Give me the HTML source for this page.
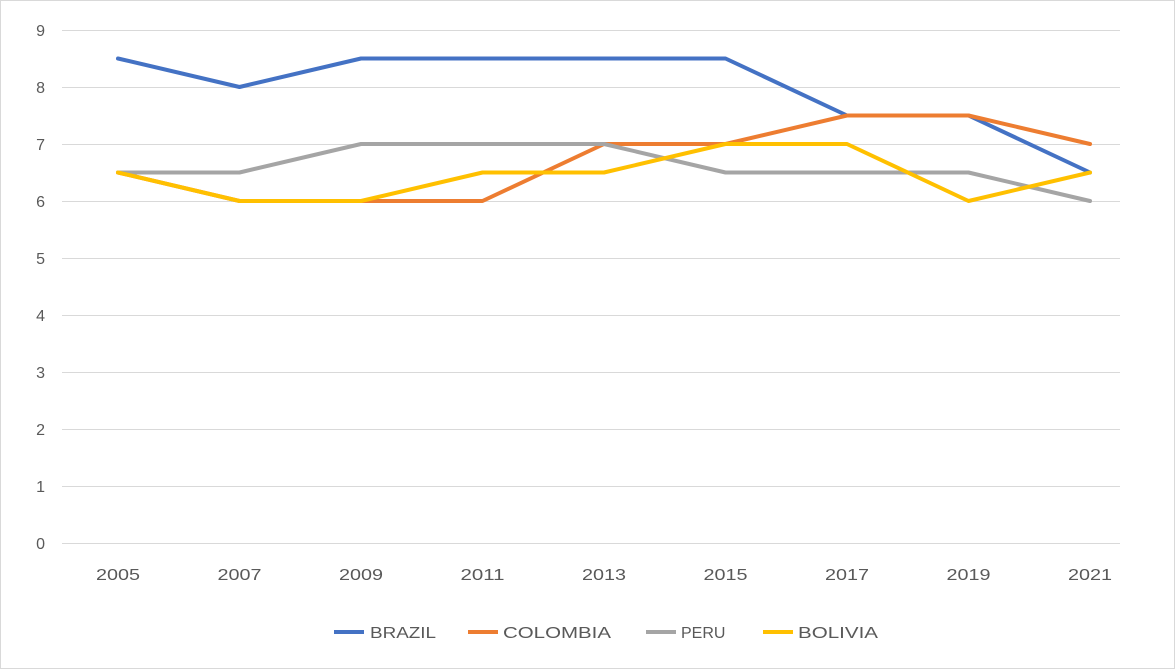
<!DOCTYPE html>
<html><head><meta charset="utf-8"><style>
html,body{margin:0;padding:0;background:#fff;}
svg{display:block;}
text{font-family:"Liberation Sans",sans-serif;fill:#595959;font-size:16px;}
</style></head><body>
<svg width="1175" height="669" viewBox="0 0 1175 669">
<rect x="0.5" y="0.5" width="1174" height="668" fill="#fff" stroke="#d9d9d9"/>
<g stroke="#d9d9d9" stroke-width="1">
<line x1="62" x2="1120" y1="30.5" y2="30.5"/>
<line x1="62" x2="1120" y1="87.5" y2="87.5"/>
<line x1="62" x2="1120" y1="144.5" y2="144.5"/>
<line x1="62" x2="1120" y1="201.5" y2="201.5"/>
<line x1="62" x2="1120" y1="258.5" y2="258.5"/>
<line x1="62" x2="1120" y1="315.5" y2="315.5"/>
<line x1="62" x2="1120" y1="372.5" y2="372.5"/>
<line x1="62" x2="1120" y1="429.5" y2="429.5"/>
<line x1="62" x2="1120" y1="486.5" y2="486.5"/>
<line x1="62" x2="1120" y1="543.5" y2="543.5"/>
</g>
<g text-anchor="end">
<text x="45" y="36">9</text><text x="45" y="93">8</text><text x="45" y="150">7</text>
<text x="45" y="207">6</text><text x="45" y="264">5</text><text x="45" y="321">4</text>
<text x="45" y="378">3</text><text x="45" y="435">2</text><text x="45" y="492">1</text>
<text x="45" y="549">0</text>
</g>
<g text-anchor="middle">
<text x="118" y="580" textLength="44" lengthAdjust="spacingAndGlyphs">2005</text><text x="239.5" y="580" textLength="44" lengthAdjust="spacingAndGlyphs">2007</text><text x="361" y="580" textLength="44" lengthAdjust="spacingAndGlyphs">2009</text>
<text x="482.5" y="580" textLength="44" lengthAdjust="spacingAndGlyphs">2011</text><text x="604" y="580" textLength="44" lengthAdjust="spacingAndGlyphs">2013</text><text x="725.5" y="580" textLength="44" lengthAdjust="spacingAndGlyphs">2015</text>
<text x="847" y="580" textLength="44" lengthAdjust="spacingAndGlyphs">2017</text><text x="968.5" y="580" textLength="44" lengthAdjust="spacingAndGlyphs">2019</text><text x="1090" y="580" textLength="44" lengthAdjust="spacingAndGlyphs">2021</text>
</g>
<g fill="none" stroke-width="4" stroke-linejoin="round" stroke-linecap="round">
<polyline stroke="#4472c4" points="118,58.5 239.5,87 361,58.5 482.5,58.5 604,58.5 725.5,58.5 847,115.5 968.5,115.5 1090,172.5"/>
<polyline stroke="#ed7d31" points="118,172.5 239.5,201 361,201 482.5,201 604,144 725.5,144 847,115.5 968.5,115.5 1090,144"/>
<polyline stroke="#a5a5a5" points="118,172.5 239.5,172.5 361,144 482.5,144 604,144 725.5,172.5 847,172.5 968.5,172.5 1090,201"/>
<polyline stroke="#ffc000" points="118,172.5 239.5,201 361,201 482.5,172.5 604,172.5 725.5,144 847,144 968.5,201 1090,172.5"/>
</g>
<g stroke-width="4">
<line x1="334" x2="364" y1="632" y2="632" stroke="#4472c4"/>
<line x1="468" x2="498" y1="632" y2="632" stroke="#ed7d31"/>
<line x1="646" x2="676" y1="632" y2="632" stroke="#a5a5a5"/>
<line x1="763" x2="793" y1="632" y2="632" stroke="#ffc000"/>
</g>
<text x="370" y="638" textLength="66" lengthAdjust="spacingAndGlyphs">BRAZIL</text>
<text x="503" y="638" textLength="108" lengthAdjust="spacingAndGlyphs">COLOMBIA</text>
<text x="681" y="638">PERU</text>
<text x="798" y="638" textLength="80" lengthAdjust="spacingAndGlyphs">BOLIVIA</text>
</svg>
</body></html>
